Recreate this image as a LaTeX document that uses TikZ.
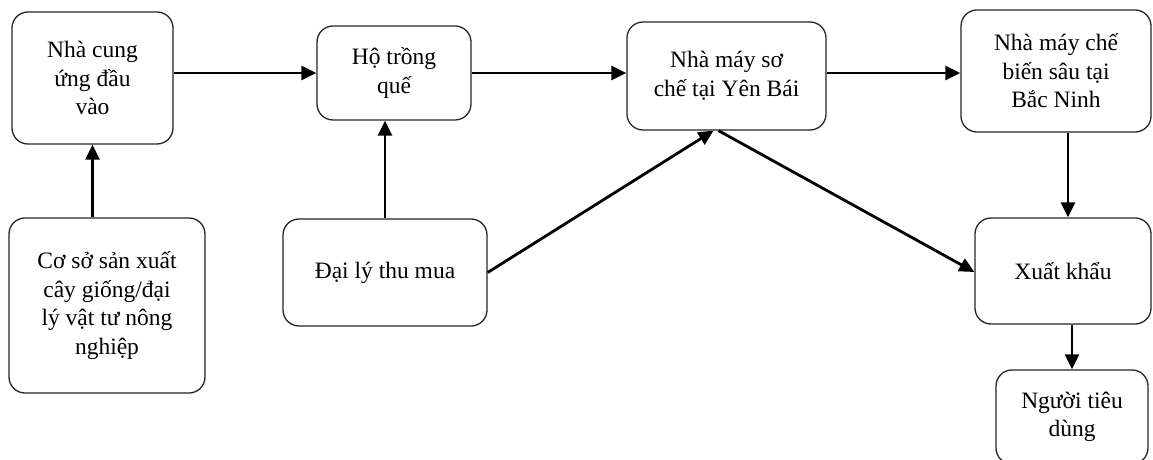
\documentclass[tikz,border=0pt]{standalone}
\usepackage{fontspec}
\setmainfont{Liberation Serif}
\usetikzlibrary{arrows.meta,calc}
\begin{document}
\begin{tikzpicture}[x=1pt,y=-1pt,
  box/.style={draw=black!85,line width=1.3pt,rounded corners=16pt,inner sep=0pt,align=center,
    font=\fontsize{23.5}{28.5}\selectfont},
  arr/.style={line width=2.8pt,-{Triangle[length=15pt,width=14pt]}}]
\clip (0,0) rectangle (1153,460);
\useasboundingbox (0,0) rectangle (1153,460);
\fill[white] (0,0) rectangle (1153,460);
\node[box,minimum width=161pt,minimum height=132pt] (n1) at (92.5,78) {Nhà cung\\ứng đầu\\vào};
\node[box,minimum width=154pt,minimum height=94pt] (n2) at (394,73) {Hộ trồng\\quế};
\node[box,minimum width=199pt,minimum height=108pt] (n3) at (726.5,76) {Nhà máy sơ\\chế tại Yên Bái};
\node[box,minimum width=190pt,minimum height=122pt] (n4) at (1056,71) {Nhà máy chế\\biến sâu tại\\Bắc Ninh};
\node[box,minimum width=196pt,minimum height=175pt] (n5) at (107,305.5) {Cơ sở sản xuất\\cây giống/đại\\lý vật tư nông\\nghiệp};
\node[box,minimum width=204pt,minimum height=107pt] (n6) at (385,272.5) {Đại lý thu mua};
\node[box,minimum width=176pt,minimum height=106pt] (n7) at (1063,271) {Xuất khẩu};
\node[box,minimum width=152pt,minimum height=94pt] (n8) at (1072,417) {Người tiêu\\dùng};
% connectors
\draw[arr] (n5.north -| n1.south) -- (n1.south);
\draw[arr] (n2.west -| n1.east) -- (n2.west);
\draw[arr] (n2.east) -- (n2.east -| n3.west);
\draw[arr] (n2.east -| n3.east) -- (n2.east -| n4.west);
\draw[arr] (n6.north) -- (n6.north |- n2.south);
\draw[arr] (n6.east) -- ([xshift=-13pt]n3.south);
\draw[arr] ([xshift=-8pt]n3.south) -- ([yshift=-1pt]n7.west);
\draw[arr] ([xshift=12pt]n4.south) -- ([xshift=12pt]n4.south |- n7.north);
\draw[arr] (n8.north |- n7.south) -- (n8.north);
\end{tikzpicture}
\end{document}
